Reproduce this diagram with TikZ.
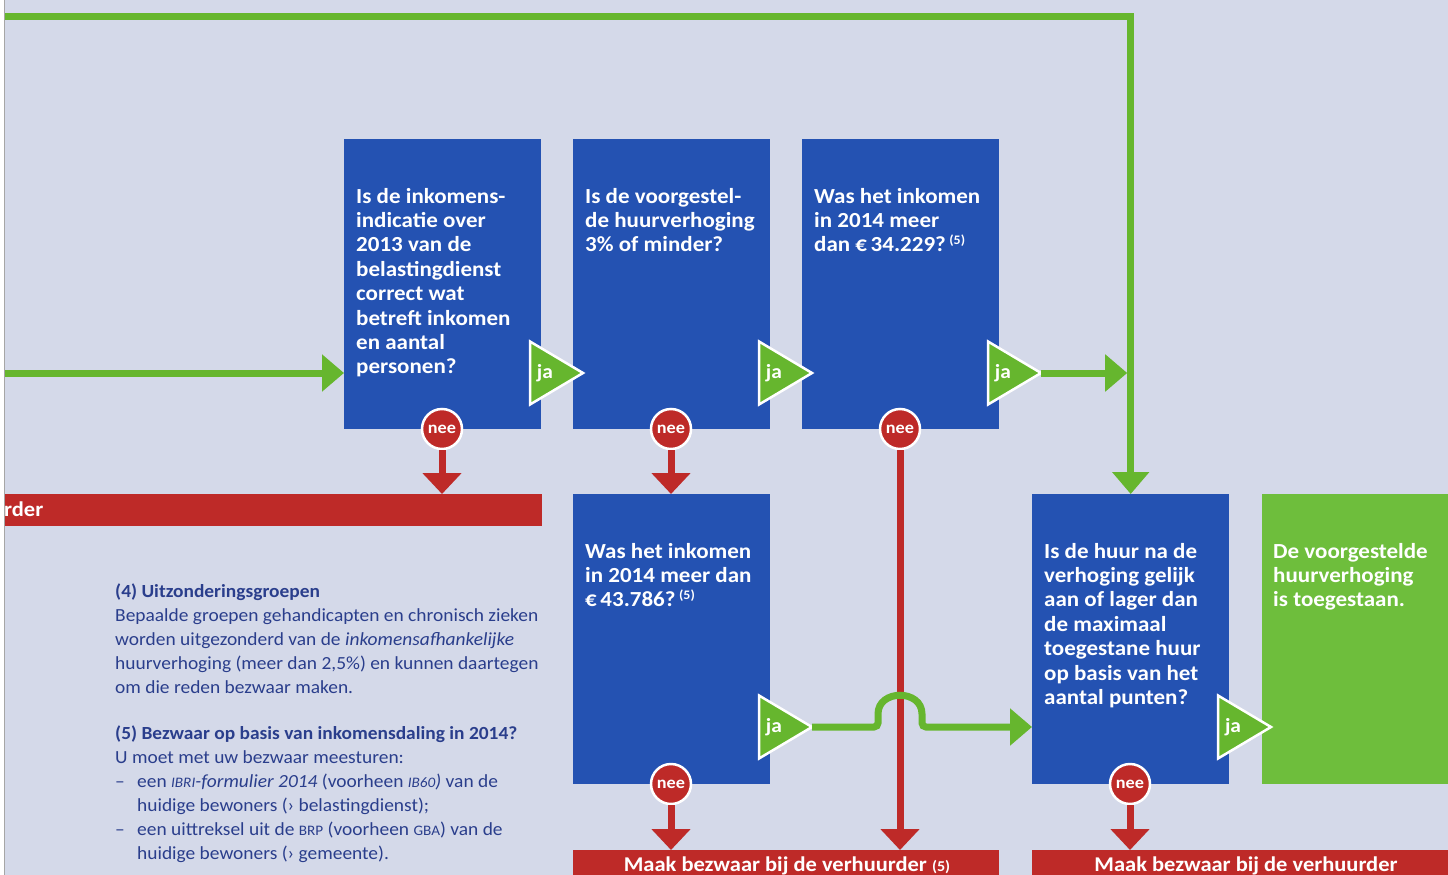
\documentclass[tikz,border=0pt]{standalone}
\usepackage{fontspec}
\setmainfont{Carlito}
\newfontfamily\qfont{Carlito}[FakeStretch=1.07]
\newfontfamily\fnfont{Carlito}[FakeStretch=1.05]
\usetikzlibrary{arrows.meta}
\definecolor{bgc}{RGB}{212,217,233}
\definecolor{qblue}{RGB}{36,82,178}
\definecolor{lgreen}{RGB}{102,182,46}
\definecolor{okgreen}{RGB}{110,190,60}
\definecolor{xred}{RGB}{190,42,40}
\definecolor{fntext}{RGB}{42,62,140}
\newcommand{\smc}[1]{{\fontsize{14.5}{14.5}\selectfont #1}}
\newcommand{\supfive}{\,\raisebox{7pt}{\fontsize{13}{13}\selectfont(5)}}
\begin{document}
\begin{tikzpicture}[x=1pt,y=-1pt,
  qbox/.style={fill=qblue, draw=none, minimum width=197pt, minimum height=290pt, anchor=north west, inner sep=0pt},
  redbar/.style={fill=xred, draw=none, anchor=north west, inner sep=0pt, minimum height=32pt},
  qtext/.style={anchor=base west, inner sep=0pt, text=white, font=\qfont\fontsize{21.5}{24.4}\selectfont\bfseries},
  bartext/.style={anchor=base, inner sep=0pt, text=white, font=\qfont\fontsize{21}{24}\selectfont\bfseries},
  fn/.style={anchor=base west, inner sep=0pt, text=fntext, font=\fnfont\fontsize{18.5}{24}\selectfont},
  nee/.style={circle, fill=xred, draw=white, line width=2.5pt, minimum size=40pt, inner sep=0pt, text=white, font=\qfont\fontsize{17}{17}\selectfont\bfseries},
  jafill/.style={fill=lgreen, draw=white, line width=2.5pt, line join=miter},
  jatext/.style={inner sep=0pt, text=white, font=\qfont\fontsize{20}{20}\selectfont\bfseries},
  redarrow/.style={draw=xred, line width=7pt, -{Triangle[width=38pt,length=21pt]}},
  garrow/.style={draw=lgreen, line width=7pt, -{Triangle[width=36pt,length=22pt]}},
]
\useasboundingbox (0,0) rectangle (1448,875);
\fill[bgc] (0,0) rectangle (1448,875);
\fill[white] (0,0) rectangle (4,875);
\draw[black!35, line width=1pt] (4.5,0) -- (4.5,875);

% question boxes
\node[qbox] (b1) at (344,139) {};
\node[qbox] (b2) at (573,139) {};
\node[qbox] (b3) at (802,139) {};
\node[qbox] (b4) at (573,494) {};
\node[qbox] (b5) at (1032,494) {};
\node[qbox, fill=okgreen, minimum width=190pt] (ok) at (1262,494) {};

% red bars
\node[redbar, minimum width=537pt] (r1) at (5,494) {};
\node[redbar, minimum width=426pt, minimum height=30pt] (r2) at (573,850) {};
\node[redbar, minimum width=420pt, minimum height=30pt] (r3) at (1032,850) {};
\node[bartext, anchor=base west] (r1t) at (4,516) {rder};
\node[bartext] (r2t) at (787,871) {Maak bezwaar bij de verhuurder {\fontsize{15}{15}\selectfont(5)}};
\node[bartext] (r3t) at (1246,871) {Maak bezwaar bij de verhuurder};

% question texts
\node[qtext] (t1) at (356,203) {\parbox[t]{185pt}{Is de inkomens-\\indicatie over\\2013 van de\\belastingdienst\\correct wat\\betreft inkomen\\en aantal\\personen?}};
\node[qtext] (t2) at (585,203) {\parbox[t]{185pt}{Is de voorgestel-\\de huurverhoging\\3\% of minder?}};
\node[qtext] (t3) at (814,203) {\parbox[t]{185pt}{Was het inkomen\\in 2014 meer\\dan €\,34.229?\supfive}};
\node[qtext] (t4) at (585,558) {\parbox[t]{185pt}{Was het inkomen\\in 2014 meer dan\\€\,43.786?\supfive}};
\node[qtext] (t5) at (1044,558) {\parbox[t]{185pt}{Is de huur na de\\verhoging gelijk\\aan of lager dan\\de maximaal\\toegestane huur\\op basis van het\\aantal punten?}};
\node[qtext] (t6) at (1273,558) {\parbox[t]{175pt}{De voorgestelde\\huurverhoging\\is toegestaan.}};

% footnotes
\node[fn] (fn4) at (115,597) {\parbox[t]{440pt}{\textbf{(4) Uitzonderingsgroepen}\\Bepaalde groepen gehandicapten en chronisch zieken\\worden uitgezonderd van de \textit{inkomensafhankelijke}\\huurverhoging (meer dan 2,5\%) en kunnen daartegen\\om die reden bezwaar maken.}};
\node[fn] (fn5) at (115,739) {\parbox[t]{440pt}{\textbf{(5) Bezwaar op basis van inkomensdaling in 2014?}\\U moet met uw bezwaar meesturen:\\\makebox[22pt][l]{–}een \textit{\smc{IBRI}-formulier 2014} (voorheen \textit{\smc{IB60})} van de\\\hspace*{22pt}huidige bewoners (› belastingdienst);\\\makebox[22pt][l]{–}een uittreksel uit de \smc{BRP} (voorheen \smc{GBA}) van de\\\hspace*{22pt}huidige bewoners (› gemeente).}};

% nee circles
\node[nee] (n1) at (442,429) {nee};
\node[nee] (n2) at (671,429) {nee};
\node[nee] (n3) at (900,429) {nee};
\node[nee] (n4) at (671,784) {nee};
\node[nee] (n5) at (1130,784) {nee};

% red arrows
\draw[redarrow] (n1) -- (n1 |- r1.north);
\draw[redarrow] (n2) -- (n2 |- b4.north);
\draw[redarrow] (n3) -- (n3 |- r2.north);
\draw[redarrow] (n4) -- (n4 |- r2.north);
\draw[redarrow] (n5) -- (n5 |- r3.north);

% ja triangles
\newcommand{\jatri}[3]{%
  \filldraw[jafill] (#2,#3-31.5) -- (#2+53,#3) -- (#2,#3+31.5) -- cycle;
  \node[jatext] (#1) at (#2+15,#3) {ja};
  \coordinate (#1tip) at (#2+53,#3);}
\jatri{ja1}{530}{373}
\jatri{ja2}{759}{373}
\jatri{ja3}{988}{373}
\jatri{ja4}{759}{727}
\jatri{ja5}{1218}{727}

% green connectors
\coordinate (gtop) at (5,17);
\coordinate (gleft) at (5,373);
\draw[garrow] (gtop) -| (b5.north);
\draw[garrow] (gleft) -- (gleft -| b1.west);
\draw[garrow] (ja3tip) -- ([xshift=-3.5pt]ja3tip -| b5.north);
\draw[garrow, rounded corners=4pt] (ja4tip) -- (878,727) -- (878,718)
   .. controls (878,689) and (922,689) .. (922,718) -- (922,727) -- (ja4tip -| b5.west);
\end{tikzpicture}
\end{document}
